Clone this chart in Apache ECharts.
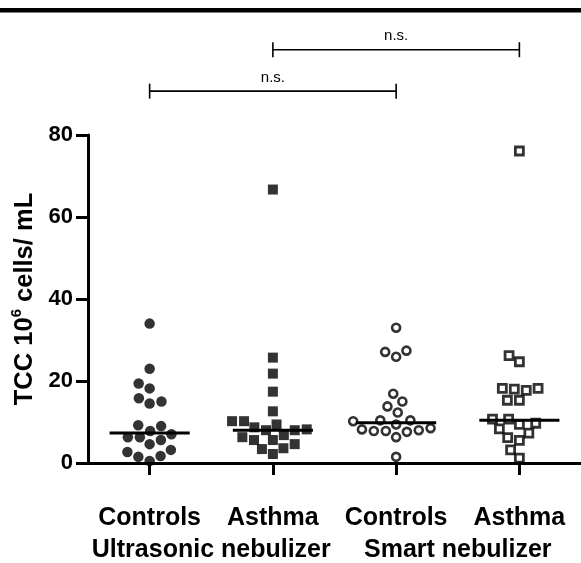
<!DOCTYPE html>
<html>
<head>
<meta charset="utf-8">
<script src="https://cdn.jsdelivr.net/npm/echarts@6/dist/echarts.min.js"></script>
<style>
html,body{margin:0;padding:0;background:#fff;}
#chart{width:581px;height:563px;}
</style>
</head>
<body>
<div id="chart"></div>
<script>
// ---- data ----
const categories = ['Controls', 'Asthma', 'Controls', 'Asthma'];
const groupLabels = ['Ultrasonic nebulizer', 'Smart nebulizer'];
const yMin = 0, yMax = 80, yInterval = 20;

const controlsUltrasonic = [34, 23, 19.4, 18.2, 15.8, 15.0, 14.5, 9.2, 9.0, 7.8, 7.0, 6.3, 6.3, 5.6, 4.6, 3.2, 2.7, 1.7, 1.5, 0.5];
const asthmaUltrasonic   = [66.7, 25.7, 21.8, 17.4, 12.6, 10.2, 10.2, 9.4, 8.7, 8.2, 8.0, 8.0, 6.8, 6.3, 5.6, 5.6, 4.6, 3.6, 3.4, 2.2];
const controlsSmart      = [33.0, 27.4, 27.1, 25.9, 16.9, 15.0, 13.8, 12.3, 10.4, 10.4, 10.2, 9.4, 8.5, 8.2, 8.0, 7.8, 7.8, 7.6, 6.3, 1.5];
const asthmaSmart        = [76.1, 26.2, 24.7, 18.2, 18.2, 18.0, 17.7, 15.3, 15.3, 10.7, 10.7, 9.7, 9.4, 8.3, 7.3, 6.2, 5.5, 3.2, 1.2];
const medians = [7.3, 8.0, 9.8, 10.4];

const comparisonPairs = [[0, 2], [1, 3]];
const comparisonLabels = ['n.s.', 'n.s.'];
const comparisonLevels = [90.7, 100.8];

const groups = [controlsUltrasonic, asthmaUltrasonic, controlsSmart, asthmaSmart];

const chart = echarts.init(document.getElementById('chart'));

const axisLineStyle = { color: '#000', width: 3 };
const fontFamily = 'Liberation Sans, Arial, Helvetica, sans-serif';

const baseOption = {
  animation: false,
  backgroundColor: '#fff',
  grid: { left: 88, right: -3, top: 135, bottom: 98, containLabel: false },
  xAxis: [
    {
      type: 'category', data: categories, position: 'bottom', boundaryGap: true,
      axisLine: { show: true, onZero: false, lineStyle: axisLineStyle },
      axisTick: { show: true, alignWithLabel: true, length: 12, lineStyle: axisLineStyle },
      axisLabel: { interval: 0, margin: 43, color: '#000', fontSize: 25, fontWeight: 'bold', fontFamily },
      splitLine: { show: false }
    },
    {
      type: 'category', data: groupLabels, position: 'bottom', offset: 0,
      axisLine: { show: false, onZero: false }, axisTick: { show: false },
      axisLabel: { interval: 0, margin: 75, color: '#000', fontSize: 25, fontWeight: 'bold', fontFamily },
      splitLine: { show: false }
    },
    { type: 'value', min: -0.5, max: 3.5, show: false, axisLine: { onZero: false } }
  ],
  yAxis: {
    type: 'value', min: yMin, max: yMax, interval: yInterval, position: 'left',
    axisLine: { show: true, onZero: false, lineStyle: axisLineStyle },
    axisTick: { show: true, length: 12, lineStyle: axisLineStyle },
    axisLabel: { margin: 15, color: '#000', fontSize: 22, fontWeight: 'bold', fontFamily },
    splitLine: { show: false },
    name: '{a|TCC 10}{sup|6}{a| cells/ mL}',
    nameLocation: 'middle', nameGap: 46,
    nameTextStyle: {
      color: '#000', fontSize: 25, fontWeight: 'bold', fontFamily,
      rich: {
        a: { fontSize: 25.5, fontWeight: 'bold', fontFamily, color: '#000', lineHeight: 24 },
        sup: { fontSize: 15, fontWeight: 'bold', fontFamily, color: '#000', lineHeight: 30, verticalAlign: 'top' }
      }
    }
  },
  graphic: [
    { type: 'rect', shape: { x: 0, y: 8, width: 581, height: 4.5 }, style: { fill: '#000' } }
  ],
  series: []
};

chart.setOption(baseOption);

// beeswarm layout in pixel space, using the library's scales
const pxPerX = Math.abs(chart.convertToPixel({ xAxisIndex: 2 }, 1) - chart.convertToPixel({ xAxisIndex: 2 }, 0));
const pxPerY = Math.abs(chart.convertToPixel({ yAxisIndex: 0 }, 0) - chart.convertToPixel({ yAxisIndex: 0 }, 1));
const D = 12;

function swarm(values, gi) {
  const pts = values.map(v => ({ v, y: v * pxPerY, x: 0 }));
  const order = pts.slice().sort((a, b) => a.v - b.v);
  const placed = [];
  order.forEach((p, idx) => {
    const cands = [0];
    placed.forEach(q => {
      const dy = p.y - q.y;
      if (Math.abs(dy) < D) {
        const h = Math.sqrt(D * D - dy * dy);
        cands.push(q.x + h, q.x - h);
      }
    });
    const ok = cands.filter(c => placed.every(q => (c - q.x) ** 2 + (p.y - q.y) ** 2 >= D * D - 1e-6));
    ok.sort((a, b) => Math.abs(a) - Math.abs(b) || (idx % 2 ? a - b : b - a));
    p.x = ok[0];
    placed.push(p);
  });
  return pts.map(p => [gi + p.x / pxPerX, p.v]);
}

const symbolStyles = [
  { symbol: 'circle', symbolSize: 10.5, itemStyle: { color: '#000' } },
  { symbol: 'rect', symbolSize: 10, itemStyle: { color: '#000' } },
  { symbol: 'circle', symbolSize: 8, itemStyle: { color: '#fff', borderColor: '#000', borderWidth: 2.6 } },
  { symbol: 'rect', symbolSize: 8, itemStyle: { color: '#fff', borderColor: '#000', borderWidth: 2.8 } }
];

const series = groups.map((g, i) => Object.assign({
  type: 'scatter', xAxisIndex: 2, yAxisIndex: 0, data: swarm(g, i), z: 3
}, symbolStyles[i]));

series.push({
  type: 'custom', xAxisIndex: 2, yAxisIndex: 0, z: 5,
  data: medians.map((m, i) => [i, m]),
  renderItem: function (params, api) {
    const x = api.value(0), y = api.value(1);
    const p1 = api.coord([x - 0.325, y]);
    const p2 = api.coord([x + 0.325, y]);
    return { type: 'line', shape: { x1: p1[0], y1: p1[1], x2: p2[0], y2: p2[1] }, style: { stroke: '#000', lineWidth: 3 } };
  }
});

series.push({
  type: 'custom', xAxisIndex: 2, yAxisIndex: 0, z: 5, clip: false,
  data: comparisonPairs.map((p, i) => [p[0], p[1], comparisonLevels[i], i]),
  renderItem: function (params, api) {
    const a = api.coord([api.value(0), api.value(2)]);
    const b = api.coord([api.value(1), api.value(2)]);
    const label = comparisonLabels[api.value(3)];
    const st = { stroke: '#000', lineWidth: 1.6 };
    return {
      type: 'group',
      children: [
        { type: 'line', shape: { x1: a[0], y1: a[1], x2: b[0], y2: b[1] }, style: st },
        { type: 'line', shape: { x1: a[0], y1: a[1] - 7.5, x2: a[0], y2: a[1] + 7.5 }, style: st },
        { type: 'line', shape: { x1: b[0], y1: b[1] - 7.5, x2: b[0], y2: b[1] + 7.5 }, style: st },
        { type: 'text', x: (a[0] + b[0]) / 2, y: a[1] - 6,
          style: { text: label, fill: '#000', fontSize: 15, fontFamily, align: 'center', verticalAlign: 'bottom' } }
      ]
    };
  }
});

chart.setOption({ series });
</script>
</body>
</html>
